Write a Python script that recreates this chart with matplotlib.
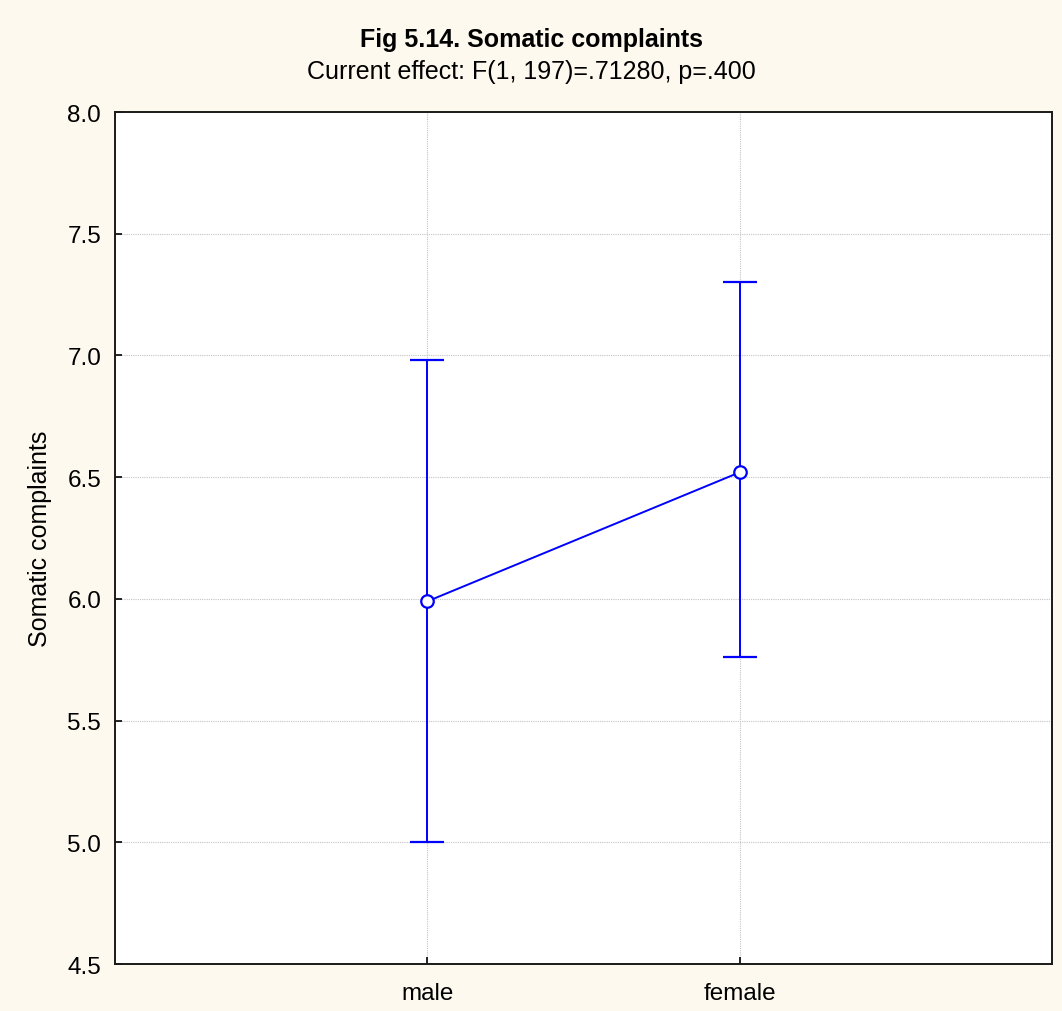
import matplotlib.pyplot as plt
import numpy as np

plt.rcParams['font.family'] = ['Liberation Sans', 'DejaVu Sans']

groups = ["male", "female"]
means = [5.99, 6.52]
upper = [6.98, 7.30]
lower = [5.00, 5.76]

fig = plt.figure(figsize=(10.62, 10.12), dpi=100, facecolor='#fdf9ef')
ax = fig.add_axes([0.1083, 0.0464, 0.8823, 0.8419])
ax.set_facecolor('white')

x = np.arange(len(groups))
m = np.array(means)
yerr = [m - np.array(lower), np.array(upper) - m]
ax.errorbar(x, m, yerr=yerr, color='#0000ff', lw=1.4, elinewidth=1.4,
            capsize=12, capthick=1.4, marker='o', markersize=9,
            markerfacecolor='white', markeredgecolor='#0000ff', markeredgewidth=1.6,
            zorder=3)

ax.set_xlim(-1, 2)
ax.set_ylim(4.5, 8.0)
ax.set_xticks(x)
ax.set_xticklabels(groups)
ax.set_yticks(np.arange(4.5, 8.01, 0.5))
ax.set_yticklabels([f"{v:.1f}" for v in np.arange(4.5, 8.01, 0.5)])
ax.tick_params(direction='in', length=5, width=1.2, labelsize=17.5)
ax.tick_params(axis='y', pad=10)
ax.tick_params(axis='x', pad=13)
ax.grid(True, color='#c4c4c4', linestyle=(0, (1, 1)), linewidth=0.8)
for s in ax.spines.values():
    s.set_linewidth(1.4)
    s.set_color('#1a1a1a')

ax.set_ylabel("Somatic complaints", fontsize=18)
ax.yaxis.set_label_coords(-0.067, 0.5)
fig.text(0.5, 0.960, "Fig 5.14. Somatic complaints", ha='center', va='center',
         fontsize=18, fontweight='bold')
fig.text(0.5, 0.929, "Current effect: F(1, 197)=.71280, p=.400", ha='center',
         va='center', fontsize=18)

fig.savefig("out.png", dpi=100, facecolor=fig.get_facecolor())
